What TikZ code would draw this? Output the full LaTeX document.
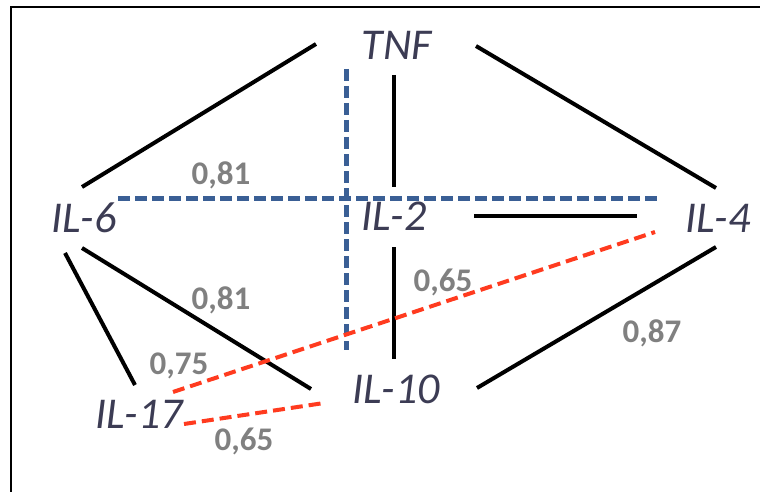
\documentclass[tikz,border=0pt]{standalone}
\usepackage{fontspec}
\setmainfont{Carlito}
\begin{document}
\begin{tikzpicture}[x=1pt,y=-1pt,
  gene/.style={font=\fontsize{44}{44}\selectfont\itshape, text=genecol, inner sep=0pt},
  val/.style={font=\fontsize{33}{33}\selectfont\bfseries, text=valcol, inner sep=0pt},
  solidlink/.style={draw=black, line width=4pt},
  redlink/.style={draw=redcol, line width=4pt, dash pattern=on 12pt off 6pt},
  bluelink/.style={draw=bluecol, line width=5pt, dash pattern=on 12pt off 5pt},
  framel/.style={draw=black, line width=2.5pt}]
\definecolor{genecol}{RGB}{60,60,84}
\definecolor{valcol}{RGB}{128,128,128}
\definecolor{redcol}{RGB}{255,59,31}
\definecolor{bluecol}{RGB}{58,95,149}
\useasboundingbox (0,0) rectangle (760,492);
% frame
\coordinate (fbl) at (11,492);
\coordinate (ftl) at (11,7);
\coordinate (ftr) at (760,7);
\draw[framel] (fbl) -- (ftl) -- (ftr);
% genes
\node[gene] (tnf) at (397,45) {TNF};
\node[gene] (il6) at (84,218) {IL-6};
\node[gene] (il2) at (394,216) {IL-2};
\node[gene] (il4) at (718,218) {IL-4};
\node[gene] (il10) at (396,389) {IL-10};
\node[gene] (il17) at (139,414) {IL-17};
% endpoints
\coordinate (a1) at (82,187);  \coordinate (a2) at (316,44);
\coordinate (b1) at (476,46);  \coordinate (b2) at (716,188);
\coordinate (c1) at (394,75);  \coordinate (c2) at (394,187);
\coordinate (d1) at (474,216); \coordinate (d2) at (637,216);
\coordinate (e1) at (394,247); \coordinate (e2) at (394,359);
\coordinate (f1) at (716,247); \coordinate (f2) at (477,388);
\coordinate (g1) at (82,248);  \coordinate (g2) at (311,389);
\coordinate (h1) at (65,253);  \coordinate (h2) at (135,385);
\coordinate (r1) at (173,392); \coordinate (r2) at (655,232);
\coordinate (s1) at (184,424); \coordinate (s2) at (324,403);
\coordinate (u1) at (118,198); \coordinate (u2) at (658,198);
\coordinate (v1) at (346,69);  \coordinate (v2) at (346,350);
% blue dashed
\draw[bluelink] (u1) -- (u2);
\draw[bluelink] (v1) -- (v2);
% black
\draw[solidlink] (a1) -- (a2);
\draw[solidlink] (b1) -- (b2);
\draw[solidlink] (c1) -- (c2);
\draw[solidlink] (d1) -- (d2);
\draw[solidlink] (e1) -- (e2);
\draw[solidlink] (f1) -- (f2);
\draw[solidlink] (g1) -- (g2);
\draw[solidlink] (h1) -- (h2);
% red dashed
\draw[redlink] (r1) -- (r2);
\draw[redlink] (s1) -- (s2);
% values
\node[val] (v81a) at (221,175) {0,81};
\node[val] (v81b) at (221,300) {0,81};
\node[val] (v65a) at (443,282) {0,65};
\node[val] (v75) at (179,366) {0,75};
\node[val] (v65b) at (244,441) {0,65};
\node[val] (v87) at (652,333) {0,87};
\end{tikzpicture}
\end{document}
